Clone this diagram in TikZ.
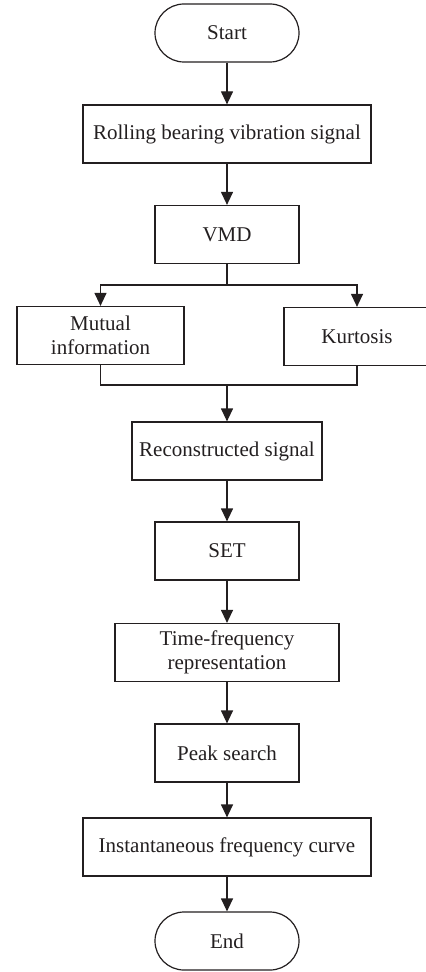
\documentclass[tikz,border=0pt]{standalone}
\usepackage{fontspec}
\setmainfont{Liberation Serif}
\usetikzlibrary{arrows.meta}
\definecolor{ink}{HTML}{231F20}
\begin{document}
\begin{tikzpicture}[x=0.5pt,y=-0.5pt,line width=0.6pt,draw=ink,
        every node/.style={font=\fontsize{10.5}{12}\selectfont,text=ink,align=center},
        stepbox/.style={draw,minimum height=29pt,inner sep=2pt},
        termbox/.style={stepbox,rounded corners=14.5pt,minimum width=72pt},
        flow/.style={-{Triangle[length=6.5pt,width=6pt]}}]
        \clip (0,0) rectangle (426,972);
        \node[termbox] (start) at (227,33) {Start};
        \node[stepbox,minimum width=144pt] (signal) at (227,134) {Rolling bearing vibration signal};
        \node[stepbox,minimum width=72pt] (vmd) at (227,234.5) {VMD};
        \node[stepbox,minimum width=83.5pt] (mi) at (100.5,335.5) {Mutual\\information};
        \node[stepbox,minimum width=73pt] (kurt) at (357,336.5) {Kurtosis};
        \node[stepbox,minimum width=95pt] (recon) at (227,451) {Reconstructed signal};
        \node[stepbox,minimum width=72pt] (set) at (227,551) {SET};
        \node[stepbox,minimum width=112pt] (tfr) at (227,652.5) {Time-frequency\\representation};
        \node[stepbox,minimum width=72pt] (peak) at (227,753) {Peak search};
        \node[stepbox,minimum width=144pt] (ifc) at (227,847) {Instantaneous frequency curve};
        \node[termbox] (end) at (227,941) {End};
        \coordinate (split) at (227,285);
        \coordinate (merge) at (227,385);
        \draw[flow] (start) -- (signal);
        \draw[flow] (signal) -- (vmd);
        \draw (vmd) -- (split);
        \draw[flow] (split) -| (mi);
        \draw[flow] (split) -| (kurt);
        \draw (mi) |- (merge) -| (kurt);
        \draw[flow] (merge) -- (recon);
        \draw[flow] (recon) -- (set);
        \draw[flow] (set) -- (tfr);
        \draw[flow] (tfr) -- (peak);
        \draw[flow] (peak) -- (ifc);
        \draw[flow] (ifc) -- (end);
\end{tikzpicture}
\end{document}
